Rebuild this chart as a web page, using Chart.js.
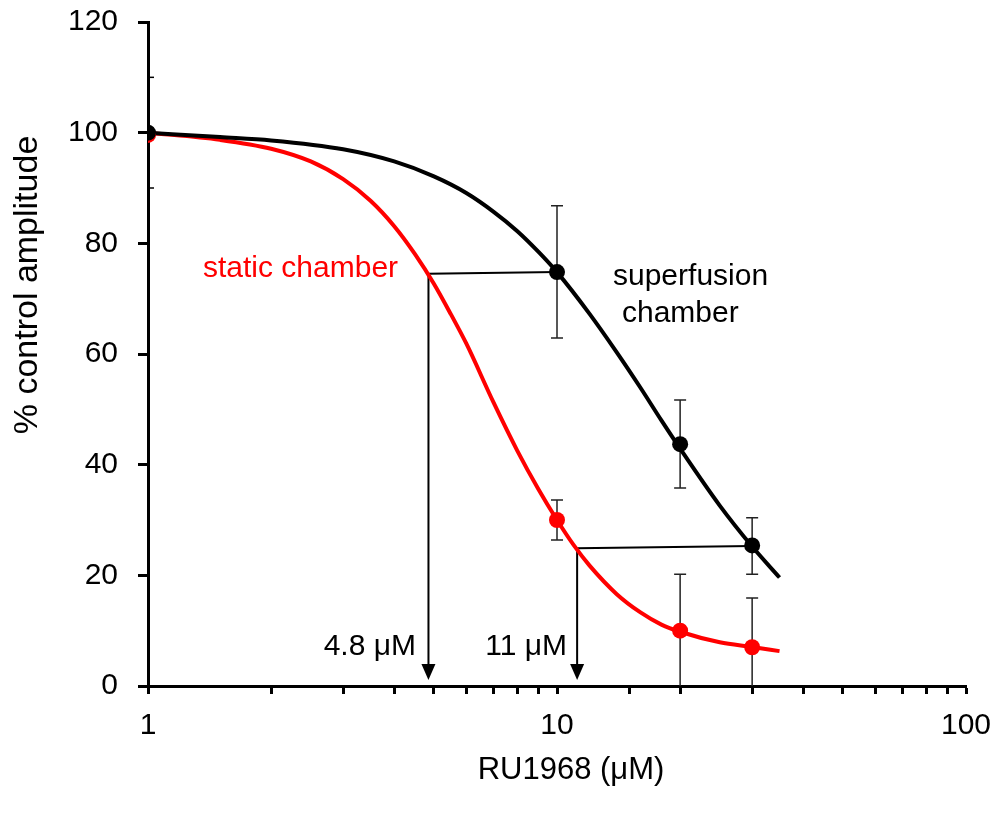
<!DOCTYPE html>
<html>
<head>
<meta charset="utf-8">
<script src="https://cdn.jsdelivr.net/npm/chart.js@4"></script>
<style>
  body { margin: 0; background: #fff; }
</style>
</head>
<body>
<canvas id="chart" width="998" height="816"></canvas>
<script>
// measured points (mean + error bars)
const doseX = [1, 10, 20, 30];
const superY = [100, 74.8, 43.7, 25.4];
const superHi = [null, 86.8, 51.7, 30.4];
const superLo = [null, 62.9, 35.8, 20.2];
const staticY = [99.6, 30, 10, 7];
const staticHi = [null, 33.6, 20.2, 15.9];
const staticLo = [null, 26.4, 0, 0];

// fitted curves
const superFitX = [1, 1.5, 2, 3, 4, 5, 6, 7, 8, 9, 10, 12, 14, 16, 18, 20, 25, 30, 35];
const superFitY = [100, 99.2, 98.6, 97.0, 94.8, 92.1, 89.1, 85.7, 82.2, 78.5, 74.8, 67.3, 60.3, 53.9, 48.0, 42.9, 32.6, 25.2, 19.6];
const staticFitX = [1, 1.5, 2, 2.5, 3, 3.5, 4, 4.5, 5, 5.5, 6, 7, 8, 9, 10, 11, 12, 14, 16, 18, 20, 25, 30, 35];
const staticFitY = [100, 98.7, 97.1, 94.8, 91.6, 87.7, 83.1, 78.0, 72.7, 67.2, 61.9, 51.2, 42.5, 35.6, 30.0, 25.4, 21.8, 16.6, 13.3, 11.1, 9.8, 7.9, 7.05, 6.3];

// IC50 guide lines
const guideX = [4.85, 11.2];
const guideY = [74.5, 24.9];
const guideToX = [10, 30];
const guideToY = [74.8, 25.3];
const guideLabels = ['4.8 \u03bcM', '11 \u03bcM'];
const arrowTipY = 1.1;

const xTicksShown = [1, 10, 100];

const FONT = '"Liberation Sans", Arial, sans-serif';
Chart.defaults.font.family = FONT;
Chart.defaults.color = '#000';

function pts(xs, ys) {
  return xs.map((v, i) => ({ x: v, y: ys[i] }));
}

function noPad(s) {
  s.paddingTop = 0; s.paddingBottom = 0; s.paddingLeft = 0; s.paddingRight = 0;
}

const extras = {
  id: 'extras',
  beforeDatasetsDraw(chart) {
    const { ctx, scales: { x, y } } = chart;
    ctx.save();
    // error bars
    ctx.strokeStyle = '#222';
    ctx.lineWidth = 1.5;
    const bars = [[superHi, superLo], [staticHi, staticLo]];
    bars.forEach(([hi, lo]) => {
      doseX.forEach((d, i) => {
        if (hi[i] == null) return;
        const px = x.getPixelForValue(d);
        const pt = y.getPixelForValue(hi[i]);
        const pb = y.getPixelForValue(lo[i]);
        ctx.beginPath();
        ctx.moveTo(px, pt); ctx.lineTo(px, pb);
        ctx.moveTo(px - 6, pt); ctx.lineTo(px + 6, pt);
        if (lo[i] > 0) { ctx.moveTo(px - 6, pb); ctx.lineTo(px + 6, pb); }
        ctx.stroke();
      });
    });
    // guide lines with arrows
    ctx.strokeStyle = '#000';
    ctx.fillStyle = '#000';
    ctx.lineWidth = 2;
    guideX.forEach((g, i) => {
      const gx = x.getPixelForValue(g);
      const gy = y.getPixelForValue(guideY[i]);
      const tx = x.getPixelForValue(guideToX[i]);
      const ty = y.getPixelForValue(guideToY[i]);
      const tip = y.getPixelForValue(arrowTipY);
      ctx.beginPath();
      ctx.moveTo(tx, ty); ctx.lineTo(gx, gy); ctx.lineTo(gx, tip - 14);
      ctx.stroke();
      ctx.beginPath();
      ctx.moveTo(gx - 7, tip - 16); ctx.lineTo(gx + 7, tip - 16); ctx.lineTo(gx, tip);
      ctx.closePath();
      ctx.fill();
    });
    ctx.restore();
  },
  afterDraw(chart) {
    const { ctx, scales: { x, y } } = chart;
    ctx.save();
    // small inner ticks on the y axis
    ctx.strokeStyle = '#000';
    ctx.lineWidth = 1.5;
    [110, 90].forEach(v => {
      const py = y.getPixelForValue(v);
      ctx.beginPath();
      ctx.moveTo(x.left, py); ctx.lineTo(x.left + 6, py);
      ctx.stroke();
    });
    ctx.font = '30px ' + FONT;
    ctx.textBaseline = 'alphabetic';
    ctx.fillStyle = '#ff0000';
    ctx.textAlign = 'left';
    ctx.fillText('static chamber', 203, 277);
    ctx.fillStyle = '#000';
    ctx.fillText('superfusion', 613, 285);
    ctx.fillText('chamber', 622, 322);
    ctx.textAlign = 'right';
    ctx.fillText(guideLabels[0], 416, 655);
    ctx.fillText(guideLabels[1], 567, 655);
    // axis titles
    ctx.textAlign = 'center';
    ctx.textBaseline = 'middle';
    ctx.font = '31px ' + FONT;
    ctx.fillText('RU1968 (\u03bcM)', 571, 770);
    ctx.font = '34px ' + FONT;
    ctx.translate(28, 285);
    ctx.rotate(-Math.PI / 2);
    ctx.fillText('% control amplitude', 0, 0);
    ctx.restore();
  }
};

new Chart(document.getElementById('chart'), {
  type: 'line',
  data: {
    datasets: [
      {
        label: 'superfusion',
        data: pts(doseX, superY),
        showLine: false,
        pointRadius: 8,
        pointBackgroundColor: '#000',
        pointBorderWidth: 0,
        order: 0,
      },
      {
        label: 'static',
        data: pts(doseX, staticY),
        showLine: false,
        pointRadius: 8,
        pointBackgroundColor: '#ff0000',
        pointBorderWidth: 0,
        order: 1,
      },
      {
        label: 'superfusion fit',
        data: pts(superFitX, superFitY),
        borderColor: '#000',
        borderWidth: 4,
        pointRadius: 0,
        cubicInterpolationMode: 'monotone',
        order: 2,
      },
      {
        label: 'static fit',
        data: pts(staticFitX, staticFitY),
        borderColor: '#ff0000',
        borderWidth: 4,
        pointRadius: 0,
        cubicInterpolationMode: 'monotone',
        order: 3,
      },
    ],
  },
  options: {
    responsive: false,
    animation: false,
    events: [],
    layout: { padding: { left: 0, top: 22, right: 32, bottom: 0 } },
    plugins: { legend: { display: false }, tooltip: { enabled: false } },
    scales: {
      x: {
        type: 'logarithmic',
        min: 1,
        max: 100,
        afterFit: (s) => { s.height = 130; noPad(s); },
        border: { color: '#000', width: 3 },
        grid: { drawOnChartArea: false, tickLength: 8, tickWidth: 3, tickColor: '#000' },
        ticks: {
          autoSkip: false,
          maxRotation: 0,
          padding: 14,
          font: { size: 30 },
          callback: (v) => (xTicksShown.includes(v) ? String(v) : ''),
        },
      },
      y: {
        min: 0,
        max: 120,
        afterFit: (s) => { s.width = 148; noPad(s); },
        border: { color: '#000', width: 3 },
        grid: { drawOnChartArea: false, tickLength: 10, tickWidth: 3, tickColor: '#000' },
        ticks: { stepSize: 20, padding: 20, font: { size: 30 } },
      },
    },
  },
  plugins: [extras],
});
</script>
</body>
</html>
